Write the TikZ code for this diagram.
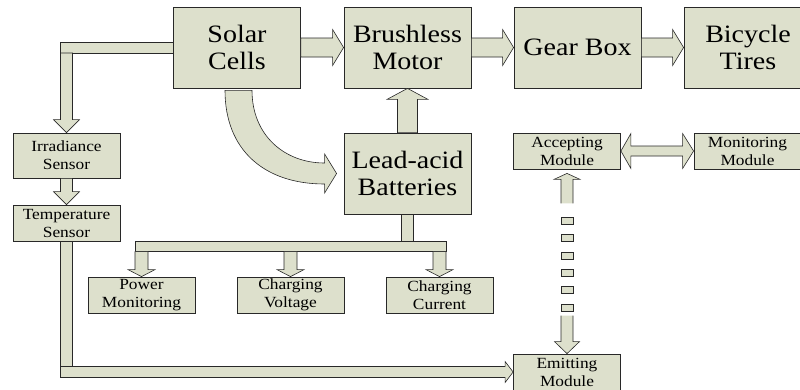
\documentclass[tikz,border=0pt]{standalone}
\usepackage{fontspec}
\newfontfamily\tnr{Liberation Serif}
\usetikzlibrary{calc}
\definecolor{boxfill}{RGB}{221,224,204}
\definecolor{edgecol}{RGB}{40,40,40}
\newcommand\stx[1]{\scalebox{1.12}[1]{#1}}
\tikzset{
  box/.style={draw=edgecol, fill=boxfill, line width=0.8pt, inner sep=0pt, align=center},
  bigbox/.style={box, minimum width=127pt, minimum height=81pt, font=\tnr\fontsize{25}{27}\selectfont},
  smallbox/.style={box, minimum width=107pt, minimum height=36pt, font=\tnr\fontsize{15.5}{18}\selectfont},
  fat/.style={draw=edgecol, fill=boxfill, line width=0.6pt, line join=miter},
  fatfill/.style={fill=boxfill},
  fatline/.style={draw=edgecol, line width=0.6pt, line join=miter},
}
% #1 from, #2 to, #3 half shaft width, #4 half head width, #5 head length
\newcommand\fatarrow[5]{%
  \coordinate (fah) at ($(#2)!#5!(#1)$);
  \path[fat] ($(#1)!#3!90:(#2)$) -- ($(fah)!#3!-90:(#1)$) -- ($(fah)!#4!-90:(#1)$) -- (#2)
    -- ($(fah)!#4!90:(#1)$) -- ($(fah)!#3!90:(#1)$) -- ($(#1)!#3!-90:(#2)$) -- cycle;}
\begin{document}
\begin{tikzpicture}[x=1pt,y=-1pt]
\path[use as bounding box] (0,0) rectangle (800,389);
\clip (0,0) rectangle (800,389);

% big boxes
\node[bigbox] (solar) at (237,47.5) {\stx{Solar}\\\stx{Cells}};
\node[bigbox] (motor) at (407.5,47.5) {\stx{Brushless}\\\stx{Motor}};
\node[bigbox] (gear)  at (577.5,47.5) {\stx{Gear Box}};
\node[bigbox, minimum width=128pt] (tires) at (748,47.5) {\stx{Bicycle}\\\stx{Tires}};
\node[bigbox] (batt)  at (407.5,173.5) {\stx{Lead-acid}\\\stx{Batteries}};

% small boxes
\node[smallbox, minimum height=45pt] (irr) at (66.5,155.5) {\stx{Irradiance}\\\stx{Sensor}};
\node[smallbox] (temp) at (66.5,223) {\stx{Temperature}\\\stx{Sensor}};
\node[smallbox] (pm) at (141.5,295) {\stx{Power}\\\stx{Monitoring}};
\node[smallbox] (cv) at (290.5,295) {\stx{Charging}\\\stx{Voltage}};
\node[smallbox] (cc) at (439.5,295) {\stx{Charging}\\\stx{Current}};
\node[smallbox] (acc) at (567,151) {\stx{Accepting}\\\stx{Module}};
\node[smallbox] (mon) at (747.5,151) {\stx{Monitoring}\\\stx{Module}};
\node[smallbox] (emit) at (567,372) {\stx{Emitting}\\\stx{Module}};

% top chain
\fatarrow{solar.east}{motor.west}{9.5pt}{18pt}{11pt}
\fatarrow{motor.east}{gear.west}{9.5pt}{18pt}{11pt}
\fatarrow{gear.east}{tires.west}{9.5pt}{18pt}{11pt}
\fatarrow{batt.north}{motor.south}{10pt}{20.5pt}{11pt}

% solar -> irradiance
\path[fat] ($(solar.west)+(0,-5.5)$) rectangle ($(irr.north |- solar.west)+(-6,5.5)$);
\coordinate (irrtop) at ($(irr.north |- solar.west)+(0,5.5)$);
\fatarrow{irrtop}{irr.north}{6pt}{13pt}{13pt}
\fatarrow{irr.south}{temp.north}{6pt}{13pt}{13pt}

% temperature -> emitting
\path[fat] ($(temp.south)+(-6,0)$) rectangle ($(temp.south |- emit.west)+(6,-5.5)$);
\coordinate (emitleft) at ($(temp.south |- emit.west)+(-6,0)$);
\fatarrow{emitleft}{emit.west}{5.5pt}{10.5pt}{8pt}

% batteries -> bus -> three boxes
\path[fat] ($(batt.south)+(-6,0)$) rectangle ($(batt.south)+(6,28)$);
\path[fat] ($(pm.north)+(-6.5,-35)$) rectangle ($(cc.north)+(6.5,-25)$);
\coordinate (pmt) at ($(pm.north)+(0,-25)$);
\coordinate (cvt) at ($(cv.north)+(0,-25)$);
\coordinate (cct) at ($(cc.north)+(0,-25)$);
\fatarrow{pmt}{pm.north}{6.5pt}{13.5pt}{7pt}
\fatarrow{cvt}{cv.north}{6.5pt}{13.5pt}{7pt}
\fatarrow{cct}{cc.north}{6.5pt}{13.5pt}{7pt}

% curved arrow solar -> batteries
\coordinate (o1) at ($(solar.south)+(-12,2)$);
\coordinate (i1) at ($(solar.south)+(15,2)$);
\coordinate (o2) at ($(batt.west)+(-19,10.5)$);
\coordinate (i2) at ($(batt.west)+(-19,-10.5)$);
\coordinate (hb) at ($(batt.west)+(-19,19.5)$);
\coordinate (ht) at ($(batt.west)+(-19,-19.5)$);
\coordinate (ctip) at ($(batt.west)+(-7,0)$);
\path[fat] (o1) .. controls ($(o1)+(0,60)$) and ($(o2)+(-60,0)$) .. (o2) -- (hb) -- (ctip) -- (ht) -- (i2)
  .. controls ($(i2)+(-40,0)$) and ($(i1)+(0,45)$) .. (i1) -- cycle;

% accepting <-> monitoring
\path[fat] (acc.east) -- ++(10,-17.5) -- ++(0,12.5) -- ($(mon.west)+(-11,-5)$) -- ++(0,-12.5)
  -- (mon.west) -- ++(-11,17.5) -- ++(0,-12.5) -- ($(acc.east)+(10,5)$) -- ++(0,12.5) -- cycle;

% accepting <-> emitting (dashed block arrow)
\coordinate (dtip) at ($(acc.south)+(0,4)$);
\path[fatfill] (dtip) -- ++(13,6) -- ++(-7,0) -- ++(0,24) -- ++(-12,0) -- ++(0,-24) -- ++(-7,0) -- cycle;
\path[fatline] ($(dtip)+(-6,30)$) -- ++(0,-24) -- ++(-7,0) -- (dtip) -- ++(13,6) -- ++(-7,0) -- ++(0,24);
\foreach \dy in {51,68,86,103,120,138}
  \path[fat] ($(acc.south)+(-6,\dy-3.5)$) rectangle ++(12,7);
\coordinate (dbase) at ($(emit.north)+(0,-12)$);
\path[fatfill] (emit.north) -- ($(dbase)+(12.5,0)$) -- ($(dbase)+(6,0)$) -- ++(0,-26) -- ++(-12,0)
  -- ($(dbase)+(-6,0)$) -- ($(dbase)+(-12.5,0)$) -- cycle;
\path[fatline] ($(dbase)+(-6,-26)$) -- ($(dbase)+(-6,0)$) -- ($(dbase)+(-12.5,0)$) -- (emit.north)
  -- ($(dbase)+(12.5,0)$) -- ($(dbase)+(6,0)$) -- ++(0,-26);
\end{tikzpicture}
\end{document}
